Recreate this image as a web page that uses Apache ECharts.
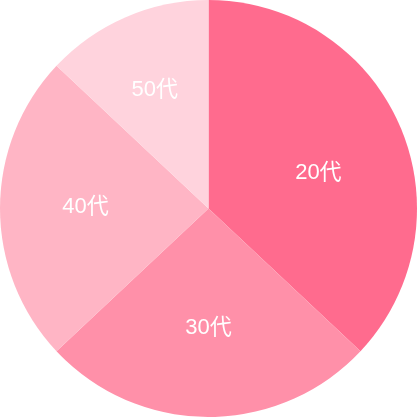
<!DOCTYPE html>
<html>
<head>
<meta charset="utf-8">
<script src="https://cdn.jsdelivr.net/npm/echarts@6/dist/echarts.min.js"></script>
<style>
html,body{margin:0;padding:0;background:#fff;}
#chart{width:417px;height:417px;}
</style>
</head>
<body>
<div id="chart"></div>
<script>
const categories = ['20代', '30代', '40代', '50代'];
const values = [37, 26, 24, 13];
const colors = ['#ff6b8e', '#ff90a9', '#ffb5c5', '#ffd3dd'];

const data = categories.map((c, i) => ({ name: c, value: values[i] }));
const font = '"Liberation Sans", "Noto Sans CJK JP", sans-serif';
// small per-label nudges to match the reference label placement
const labelNudge = [[-3, 13], [0, -4], [0, -2], [-5, -6]];

const chart = echarts.init(document.getElementById('chart'), null, { renderer: 'canvas' });
chart.setOption({
  animation: false,
  color: colors,
  series: [
    {
      type: 'pie',
      center: ['50%', '50%'],
      radius: [0, 208.5],
      startAngle: 90,
      clockwise: true,
      silent: true,
      label: { show: false },
      labelLine: { show: false },
      itemStyle: { borderWidth: 0 },
      data: data
    },
    {
      type: 'pie',
      center: ['50%', '50%'],
      radius: [0, 240],
      startAngle: 90,
      clockwise: true,
      silent: true,
      itemStyle: { color: 'rgba(0,0,0,0)', borderWidth: 0 },
      label: {
        show: true,
        position: 'inside',
        color: '#ffffff',
        fontSize: 22,
        fontWeight: 'normal',
        fontFamily: font,
        formatter: '{b}'
      },
      labelLayout: function (p) {
        const n = labelNudge[p.dataIndex] || [0, 0];
        return { dx: n[0], dy: n[1] };
      },
      labelLine: { show: false },
      data: data
    }
  ]
});
</script>
</body>
</html>
